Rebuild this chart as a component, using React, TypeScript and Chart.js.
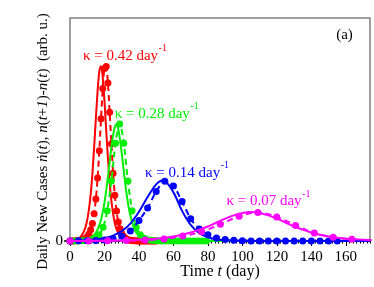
import React, { useEffect, useRef } from "react";
import { Chart, registerables } from "chart.js";

Chart.register(...registerables);

// ---------- data ----------
const X_TICKS = [0, 20, 40, 60, 80, 100, 120, 140, 160];
const X_MAX = 174;
const Y_TICKS = [0];

const redModelT = [0, 2, 4, 6, 8, 9, 10, 11, 12, 13, 14, 15, 16, 17, 18, 19, 20, 21, 22, 23, 24, 25, 26, 27, 28, 30, 32, 35, 40, 60, 100, 174];
const redModelY = [0.001, 0.003, 0.007, 0.017, 0.042, 0.063, 0.095, 0.143, 0.21, 0.302, 0.42, 0.55, 0.673, 0.761, 0.784, 0.733, 0.626, 0.496, 0.37, 0.262, 0.181, 0.122, 0.08, 0.053, 0.035, 0.015, 0.006, 0.002, 0, 0, 0, 0];

const redDataT = [0, 1, 2, 3, 4, 5, 6, 7, 8, 9, 10, 11, 12, 13, 14, 15, 16, 17, 18, 19, 20, 21, 22, 23, 24, 25, 26, 27, 28, 29, 30, 31, 32, 33, 34, 35, 36, 37, 38, 39, 40, 41, 42, 43, 44, 45, 46, 47, 48, 49, 50];
const redDataY = [0, 0, 0, 0.001, 0.001, 0.002, 0.003, 0.005, 0.007, 0.012, 0.019, 0.031, 0.05, 0.078, 0.122, 0.188, 0.282, 0.405, 0.548, 0.684, 0.774, 0.783, 0.708, 0.577, 0.436, 0.304, 0.205, 0.134, 0.085, 0.055, 0.034, 0.021, 0.013, 0.008, 0.005, 0.003, 0.002, 0.001, 0.001, 0, 0, 0, 0, 0, 0, 0, 0, 0, 0, 0, 0];

const greenModelT = [0, 4, 8, 10, 12, 14, 16, 18, 20, 22, 24, 26, 27, 28, 30, 32, 34, 36, 38, 40, 42, 44, 46, 50, 60, 100, 174];
const greenModelY = [0, 0.001, 0.004, 0.007, 0.014, 0.027, 0.051, 0.095, 0.172, 0.286, 0.42, 0.513, 0.522, 0.502, 0.394, 0.26, 0.153, 0.084, 0.044, 0.023, 0.012, 0.006, 0.003, 0.001, 0, 0, 0];

const greenDataT = [0, 2.4, 4.8, 7.2, 9.6, 12, 14.4, 16.8, 19.2, 21.6, 24, 26.4, 28.8, 31.2, 33.6, 36, 38.4, 40.8, 43.2, 45.6, 48, 50.4, 52.8, 55.2, 57.6, 60, 62.4, 64.8, 67.2, 69.6, 72, 74.4, 76.8, 79.2];
const greenDataY = [0, 0, 0, 0.001, 0.002, 0.005, 0.012, 0.028, 0.062, 0.136, 0.269, 0.438, 0.525, 0.438, 0.269, 0.136, 0.062, 0.028, 0.012, 0.005, 0.002, 0.001, 0, 0, 0, 0, 0, 0, 0, 0, 0, 0, 0, 0];

const blueModelT = [0, 5, 10, 15, 20, 25, 30, 35, 40, 45, 50, 54, 60, 65, 70, 75, 80, 85, 90, 95, 100, 110, 174];
const blueModelY = [0.001, 0.0019, 0.0036, 0.0068, 0.013, 0.024, 0.044, 0.078, 0.131, 0.197, 0.254, 0.272, 0.218, 0.135, 0.072, 0.035, 0.017, 0.0076, 0.0034, 0.0015, 0.0007, 0.0001, 0];

const blueDataT = [0, 5, 10, 15, 20, 25, 30, 35, 40, 45, 50, 55, 60, 65, 70, 75, 80, 85, 90, 95, 100, 105, 110, 115, 120, 125, 130, 135, 140, 145, 150, 155];
const blueDataY = [0, 0.001, 0.001, 0.002, 0.005, 0.01, 0.021, 0.045, 0.092, 0.148, 0.222, 0.268, 0.247, 0.177, 0.1, 0.054, 0.028, 0.014, 0.007, 0.003, 0.001, 0, 0, 0, 0, 0, 0, 0, 0, 0, 0, 0];

const magentaModelT = [0, 5, 10, 15, 20, 25, 30, 35, 40, 45, 50, 55, 60, 65, 70, 75, 80, 85, 90, 95, 100, 105, 110, 115, 120, 125, 130, 135, 140, 145, 150, 155, 160, 165, 170, 175];
const magentaModelY = [0.0003, 0.0005, 0.0007, 0.001, 0.0014, 0.0019, 0.0027, 0.0039, 0.0054, 0.0076, 0.0106, 0.0147, 0.02, 0.028, 0.038, 0.051, 0.065, 0.083, 0.1, 0.115, 0.126, 0.13, 0.126, 0.115, 0.1, 0.083, 0.065, 0.051, 0.038, 0.028, 0.02, 0.0147, 0.0106, 0.0076, 0.0054, 0.0039];

const magentaDataT = [0, 10.9, 21.8, 32.7, 43.6, 54.5, 65.4, 76.3, 87.2, 98.1, 109, 119.9, 130.8, 141.7, 152.6, 163.5];
const magentaDataY = [0, 0.0003, 0.0007, 0.0017, 0.004, 0.009, 0.022, 0.042, 0.075, 0.111, 0.128, 0.108, 0.07, 0.036, 0.017, 0.008];

const RED = "#ff0000";
const GREEN = "#00ee00";
const BLUE = "#0000ff";
const MAGENTA = "#ff00ff";

// labels: [text, colour, t, value]
const KAPPA_LABELS: [string, string, number, number][] = [
  ["κ = 0.42 day", RED, 7.5, 0.812],
  ["κ = 0.28 day", GREEN, 25.9, 0.552],
  ["κ = 0.14 day", BLUE, 43.5, 0.287],
  ["κ = 0.07 day", MAGENTA, 90.7, 0.161],
];
const PANEL_LABEL: [string, number, number] = ["(a)", 154.4, 0.904];

const SERIF = '"Liberation Serif", "Times New Roman", serif';

const pts = (t: number[], y: number[]) => t.map((x, i) => ({ x, y: y[i] }));

const dataSet = (t: number[], y: number[], color: string) => ({
  data: pts(t, y),
  borderColor: color,
  backgroundColor: color,
  borderWidth: 2,
  borderDash: [6, 4],
  pointRadius: 3.5,
  pointBorderWidth: 0,
  pointBackgroundColor: color,
  cubicInterpolationMode: "monotone" as const,
  clip: false as const,
});

const modelSet = (t: number[], y: number[], color: string) => ({
  data: pts(t, y),
  borderColor: color,
  backgroundColor: color,
  borderWidth: 2,
  pointRadius: 0,
  cubicInterpolationMode: "monotone" as const,
  clip: false as const,
});

const decorPlugin = {
  id: "decor",
  beforeDatasetsDraw(chart: any) {
    const { ctx, chartArea } = chart;
    const { left, right, top, bottom } = chartArea;
    const xs = chart.scales.x;
    ctx.save();
    ctx.strokeStyle = "#808080";
    ctx.lineWidth = 1.5;
    ctx.beginPath();
    ctx.moveTo(left, bottom);
    ctx.lineTo(left, top);
    ctx.lineTo(right, top);
    ctx.lineTo(right, bottom);
    ctx.stroke();
    ctx.strokeStyle = "#000";
    ctx.lineWidth = 1.5;
    ctx.beginPath();
    ctx.moveTo(left, bottom);
    ctx.lineTo(right, bottom);
    ctx.stroke();
    ctx.lineWidth = 1;
    ctx.beginPath();
    for (let v = 0; v <= X_MAX; v += 2) {
      const px = Math.round(xs.getPixelForValue(v)) + 0.5;
      const major = v % 20 === 0;
      ctx.moveTo(px, bottom - (major ? 0 : 1.5));
      ctx.lineTo(px, bottom + (major ? 5 : 2.5));
    }
    ctx.stroke();
    ctx.lineWidth = 1.5;
    ctx.beginPath();
    ctx.moveTo(left - 6, bottom);
    ctx.lineTo(left, bottom);
    ctx.stroke();
    ctx.restore();
  },
  afterDraw(chart: any) {
    const { ctx, chartArea } = chart;
    const xs = chart.scales.x;
    const ys = chart.scales.y;
    ctx.save();
    ctx.textBaseline = "alphabetic";
    ctx.textAlign = "left";
    for (const [txt, col, t, v] of KAPPA_LABELS) {
      const x = xs.getPixelForValue(t);
      const y = ys.getPixelForValue(v);
      ctx.fillStyle = col;
      ctx.font = `15px ${SERIF}`;
      ctx.fillText(txt, x, y);
      const w = ctx.measureText(txt).width;
      ctx.font = `10px ${SERIF}`;
      ctx.fillText("-1", x + w + 0.5, y - 8.5);
    }
    ctx.fillStyle = "#000";
    ctx.font = `15px ${SERIF}`;
    ctx.fillText(PANEL_LABEL[0], xs.getPixelForValue(PANEL_LABEL[1]), ys.getPixelForValue(PANEL_LABEL[2]));

    const drawSegs = (segs: [string, boolean][], size: number, cx: number, by: number) => {
      let total = 0;
      const widths: number[] = [];
      for (const [s, it] of segs) {
        ctx.font = `${it ? "italic " : ""}${size}px ${SERIF}`;
        const w = ctx.measureText(s).width;
        widths.push(w);
        total += w;
      }
      let x = cx - total / 2;
      segs.forEach(([s, it], i) => {
        ctx.font = `${it ? "italic " : ""}${size}px ${SERIF}`;
        ctx.fillText(s, x, by);
        x += widths[i];
      });
    };

    // x title
    const segX: [string, boolean][] = [["Time ", false], ["t", true], [" (day)", false]];
    drawSegs(segX, 16, (chartArea.left + chartArea.right) / 2, 276);

    // y title
    const segY: [string, boolean][] = [
      ["Daily New Cases ", false],
      ["ṅ", true],
      ["(", false],
      ["t", true],
      ["), ", false],
      ["n", true],
      ["(", false],
      ["t", true],
      ["+", false],
      ["1", true],
      [")-", false],
      ["n", true],
      ["(", false],
      ["t", true],
      [")  (arb. u.)", false],
    ];
    ctx.save();
    ctx.translate(47, 141.5);
    ctx.rotate(-Math.PI / 2);
    drawSegs(segY, 15, 0, 0);
    ctx.restore();
    ctx.restore();
  },
};

export default function App() {
  const ref = useRef<HTMLCanvasElement | null>(null);
  useEffect(() => {
    if (!ref.current) return;
    const chart = new Chart(ref.current, {
      type: "line",
      data: {
        datasets: [
          dataSet(magentaDataT, magentaDataY, MAGENTA),
          modelSet(magentaModelT, magentaModelY, MAGENTA),
          dataSet(blueDataT, blueDataY, BLUE),
          modelSet(blueModelT, blueModelY, BLUE),
          dataSet(greenDataT, greenDataY, GREEN),
          modelSet(greenModelT, greenModelY, GREEN),
          dataSet(redDataT, redDataY, RED),
          modelSet(redModelT, redModelY, RED),
        ] as any,
      },
      options: {
        animation: false,
        responsive: false,
        devicePixelRatio: 1,
        layout: { padding: { top: 18, right: 2, left: 0, bottom: 0 } },
        plugins: { legend: { display: false }, tooltip: { enabled: false } },
        scales: {
          x: {
            type: "linear",
            min: 0,
            max: X_MAX,
            grid: { display: false, drawTicks: false },
            border: { display: false },
            afterBuildTicks: (s: any) => {
              s.ticks = X_TICKS.map((value) => ({ value }));
            },
            afterFit: (s: any) => {
              s.height = 46;
            },
            ticks: {
              padding: 7,
              maxRotation: 0,
              autoSkip: false,
              color: "#000",
              font: { family: SERIF, size: 15 },
            },
          },
          y: {
            type: "linear",
            min: 0,
            max: 1,
            grid: { display: false, drawTicks: false },
            border: { display: false },
            afterBuildTicks: (s: any) => {
              s.ticks = Y_TICKS.map((value) => ({ value }));
            },
            afterFit: (s: any) => {
              s.width = 70;
            },
            ticks: {
              padding: 7,
              color: "#000",
              font: { family: SERIF, size: 15 },
            },
          },
        },
      },
      plugins: [decorPlugin],
    });
    return () => chart.destroy();
  }, []);
  return (
    <div style={{ position: "absolute", left: 0, top: 0, width: 374, height: 287, background: "#fff" }}>
      <canvas ref={ref} width={374} height={287} style={{ display: "block" }} />
    </div>
  );
}
